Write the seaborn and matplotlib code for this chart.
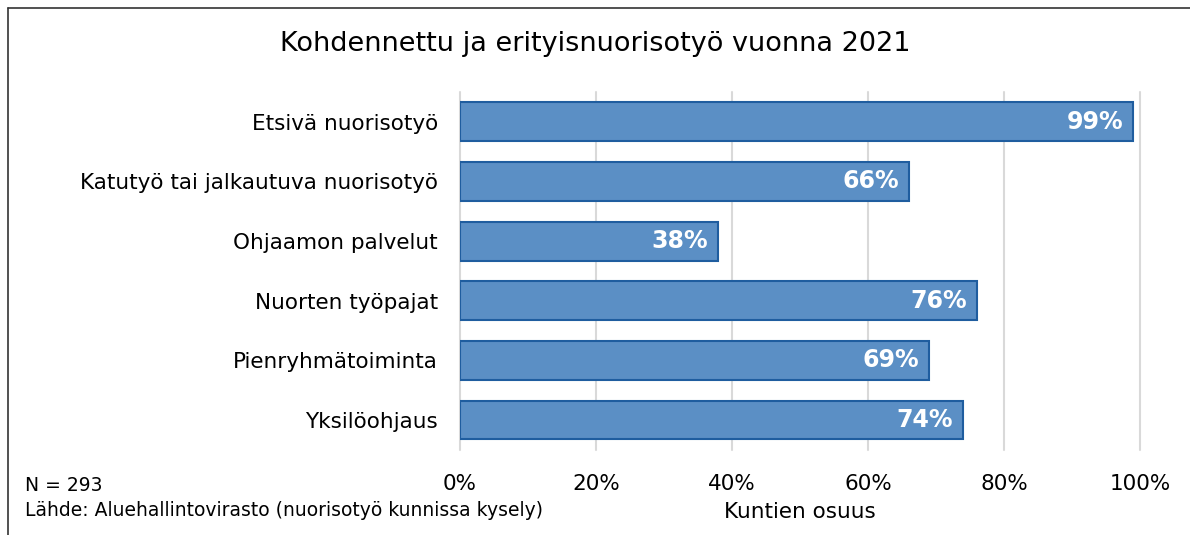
import matplotlib
matplotlib.use("Agg")
import matplotlib.pyplot as plt
import seaborn as sns
import pandas as pd
from matplotlib.ticker import FuncFormatter

# Kategorier och kuntien osuudet (%)
categories = [
    "Etsivä nuorisotyö",
    "Katutyö tai jalkautuva nuorisotyö",
    "Ohjaamon palvelut",
    "Nuorten työpajat",
    "Pienryhmätoiminta",
    "Yksilöohjaus",
]
shares = [99, 66, 38, 76, 69, 74]

title = "Kohdennettu ja erityisnuorisotyö vuonna 2021"
xlabel = "Kuntien osuus"
note_n = "N = 293"
note_source = "Lähde: Aluehallintovirasto (nuorisotyö kunnissa kysely)"

df = pd.DataFrame({"kategoria": categories, "osuus": shares})

sns.set_style("white")
plt.rcParams["font.family"] = ["DejaVu Sans"]
plt.rcParams["text.color"] = "black"
plt.rcParams["xtick.color"] = "black"
plt.rcParams["ytick.color"] = "black"
plt.rcParams["axes.labelcolor"] = "black"

fig = plt.figure(figsize=(11.9, 5.35), dpi=100)
ax = fig.add_axes([0.3866, 0.159, 0.5714, 0.669])

sns.barplot(
    data=df,
    x="osuus",
    y="kategoria",
    color="#5b8fc5",
    edgecolor="#1f5d9f",
    linewidth=1.5,
    width=0.65,
    saturation=1,
    ax=ax,
)

# Arvot valkoisella palkin sisään oikeaan reunaan
for i, v in enumerate(shares):
    ax.text(v - 1.5, i, f"{v}%", color="white", fontweight="bold",
            fontsize=17, ha="right", va="center")

ax.set_xlim(0, 100)
ax.set_ylim(5.5, -0.5)
ax.set_xticks(range(0, 101, 20))
ax.xaxis.set_major_formatter(FuncFormatter(lambda x, p: f"{int(x)}%"))
ax.grid(axis="x", color="#d9d9d9", linewidth=1.5)
for gl in ax.get_xgridlines():
    gl.set_clip_on(False)
ax.set_axisbelow(True)
for s in ax.spines.values():
    s.set_visible(False)
ax.tick_params(axis="x", labelsize=15.5, pad=17, length=0)
ax.tick_params(axis="y", labelsize=15.5, pad=16, length=0)
ax.set_ylabel("")
ax.set_xlabel(xlabel, fontsize=15.5, labelpad=6)

fig.text(0.5, 0.917, title, ha="center", va="center", fontsize=19.5)
fig.text(0.021, 0.092, note_n, fontsize=13.5, va="center")
fig.text(0.021, 0.045, note_source, fontsize=13.5, va="center")

# Ram ylä- ja vasemmalle reunalle
fig.add_artist(plt.Line2D([0.007, 1.0], [0.985, 0.985], color="#333333",
                          linewidth=1.2, transform=fig.transFigure))
fig.add_artist(plt.Line2D([0.007, 0.007], [0.0, 0.985], color="#333333",
                          linewidth=1.2, transform=fig.transFigure))

fig.savefig("out.png", dpi=100)
